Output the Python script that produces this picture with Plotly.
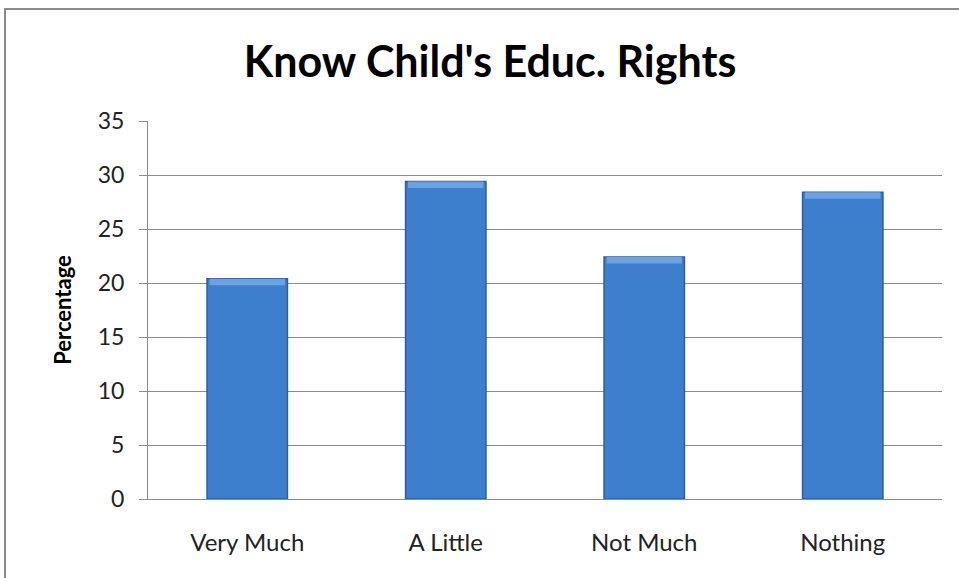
import plotly.graph_objects as go

categories = ["Very Much", "A Little", "Not Much", "Nothing"]
values = [20.4, 29.4, 22.4, 28.4]
y_ticks = [0, 5, 10, 15, 20, 25, 30, 35]

fig = go.Figure()
fig.add_trace(go.Bar(
    x=categories, y=values, width=0.405,
    marker=dict(color="#3d7ecd", line=dict(color="#2c5d9c", width=1.5)),
    showlegend=False,
))
# lighter bevel strip at the top of each bar
fig.add_trace(go.Bar(
    x=categories, y=[0.6] * len(values), base=[v - 0.6 for v in values], width=0.38,
    marker=dict(color="#6aa2e3", line=dict(width=0)),
    showlegend=False, hoverinfo="skip",
))
fig.update_layout(
    barmode="overlay",
    width=959, height=578,
    margin=dict(l=148, r=17, t=121, b=79),
    paper_bgcolor="white", plot_bgcolor="white",
    title=dict(text="<b>Know Child's Educ. Rights</b>", x=0.511, xanchor="center",
               y=0.893, yanchor="middle",
               font=dict(family="Lato", size=43, color="black")),
    font=dict(family="Lato", color="#222"),
    xaxis=dict(showline=True, linecolor="#8c8c8c", linewidth=1, ticks="",
               tickfont=dict(size=24, color="#222"), ticklabelstandoff=22),
    yaxis=dict(range=[0, 35], tickvals=y_ticks, showgrid=True, gridcolor="#8c8c8c",
               gridwidth=1, showline=True, linecolor="#8c8c8c", linewidth=1,
               ticks="outside", ticklen=8, tickcolor="#8c8c8c",
               tickfont=dict(size=23, color="#222"), ticklabelstandoff=10,
               title=dict(text="<b>Percentage</b>", font=dict(size=22, color="black"),
                          standoff=20),
               zeroline=False),
    shapes=[dict(type="rect", xref="paper", yref="paper",
                 x0=(5 - 148) / 794, x1=1.05, y0=-0.4, y1=(499 - 9) / 378,
                 line=dict(color="#8a8a8a", width=2), layer="below")],
)
fig.write_html("out.html")
